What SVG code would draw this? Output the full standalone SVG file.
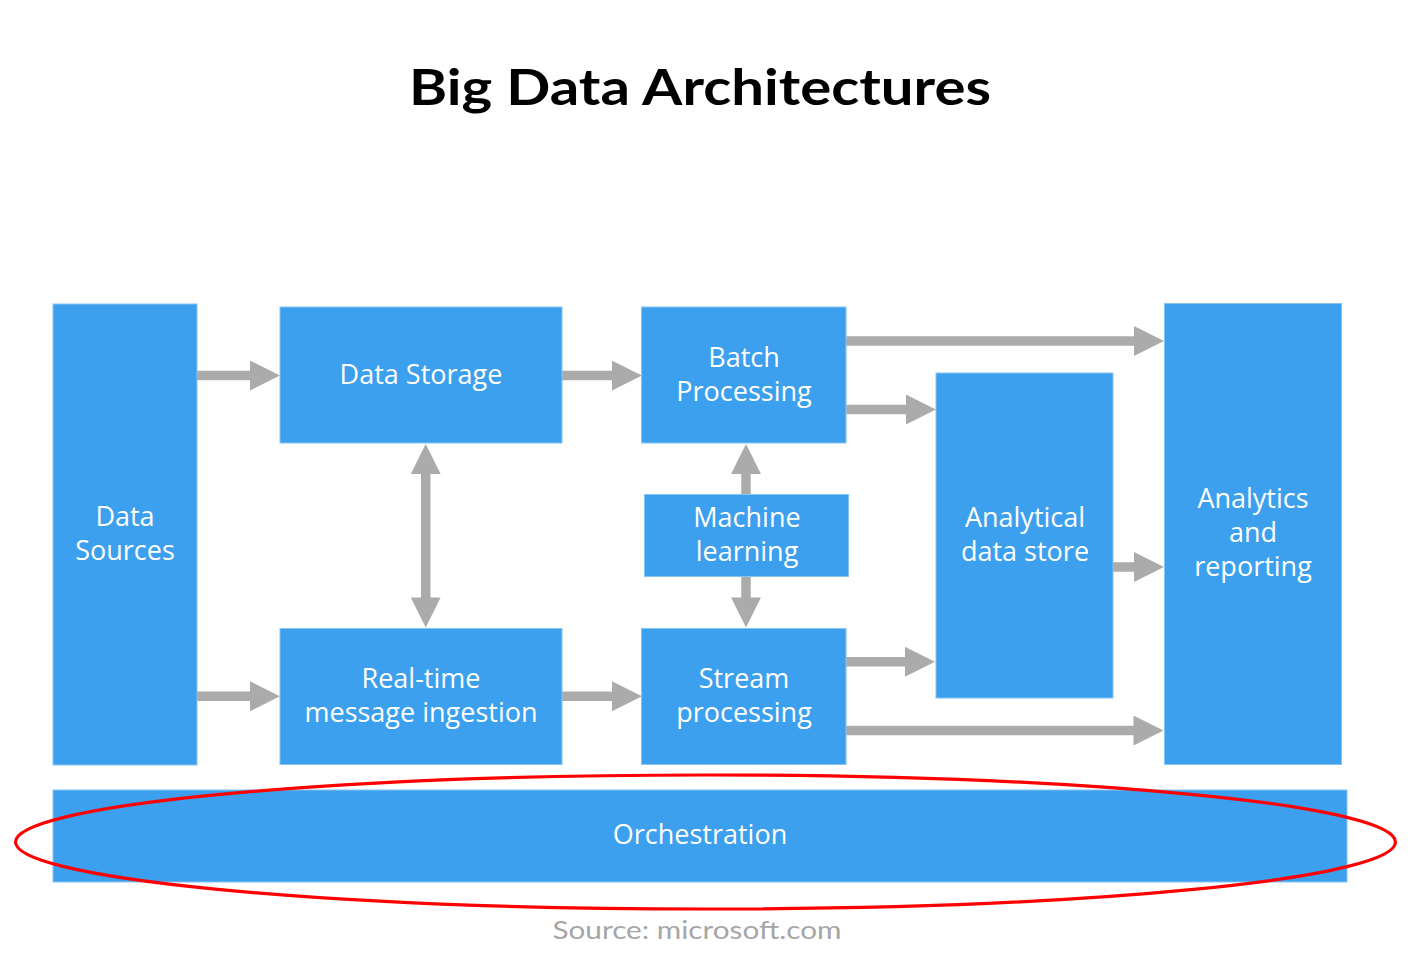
<svg xmlns="http://www.w3.org/2000/svg" width="1414" height="976" viewBox="0 0 1414 976">
<style>
.box{fill:#3ca0ee;stroke:#86c4f3;stroke-width:1}
.lbl{font-family:"Open Sans","Noto Sans","DejaVu Sans",sans-serif;font-size:27px;fill:#ffffff;text-anchor:middle}
.arr{stroke:#ababab;stroke-width:9.5;fill:none;stroke-linecap:butt}
</style>
<defs>
<marker id="ah" markerUnits="userSpaceOnUse" markerWidth="30" markerHeight="30" viewBox="0 0 29.5 29.4" refX="0.5" refY="14.7" orient="auto-start-reverse">
<path d="M0,0 L29.5,14.7 L0,29.4 z" fill="#ababab"/>
</marker>
</defs>
<rect width="1414" height="976" fill="#ffffff"/>
<text x="700" y="105" font-family="Lato,'Open Sans',sans-serif" font-weight="bold" font-size="49" fill="#000000" text-anchor="middle" textLength="582" lengthAdjust="spacingAndGlyphs">Big Data Architectures</text>

<g id="connectors">
<line class="arr" x1="197" y1="375.5" x2="250.5" y2="375.5" marker-end="url(#ah)"/>
<line class="arr" x1="562" y1="375.5" x2="612.5" y2="375.5" marker-end="url(#ah)"/>
<line class="arr" x1="846" y1="341" x2="1134.5" y2="341" marker-end="url(#ah)"/>
<line class="arr" x1="846" y1="409.5" x2="906.5" y2="409.5" marker-end="url(#ah)"/>
<line class="arr" x1="746" y1="495" x2="746" y2="473.5" marker-end="url(#ah)"/>
<line class="arr" x1="746" y1="577" x2="746" y2="598" marker-end="url(#ah)"/>
<line class="arr" x1="425.7" y1="473.5" x2="425.7" y2="598" marker-start="url(#ah)" marker-end="url(#ah)"/>
<line class="arr" x1="197" y1="696.3" x2="250.5" y2="696.3" marker-end="url(#ah)"/>
<line class="arr" x1="562" y1="696.3" x2="612.5" y2="696.3" marker-end="url(#ah)"/>
<line class="arr" x1="846" y1="661.8" x2="905.5" y2="661.8" marker-end="url(#ah)"/>
<line class="arr" x1="1113" y1="567" x2="1134.5" y2="567" marker-end="url(#ah)"/>
<line class="arr" x1="846" y1="730.5" x2="1134" y2="730.5" marker-end="url(#ah)"/>
</g>

<g id="data-sources">
<rect class="box" x="53" y="304" width="144" height="461"/>
<text class="lbl" x="125" y="526">Data</text>
<text class="lbl" x="125" y="560">Sources</text>
</g>
<g id="data-storage">
<rect class="box" x="280" y="307" width="282" height="136"/>
<text class="lbl" x="421" y="383.5">Data Storage</text>
</g>
<g id="batch-processing">
<rect class="box" x="641.5" y="307" width="204.5" height="136"/>
<text class="lbl" x="744" y="366.5">Batch</text>
<text class="lbl" x="744" y="400.5">Processing</text>
</g>
<g id="machine-learning">
<rect class="box" x="644.5" y="494.5" width="204" height="82"/>
<text class="lbl" x="747" y="527.3">Machine</text>
<text class="lbl" x="747" y="561.3">learning</text>
</g>
<g id="realtime-ingestion">
<rect class="box" x="280" y="628.5" width="282" height="136"/>
<text class="lbl" x="421" y="687.5">Real-time</text>
<text class="lbl" x="421" y="721.5">message ingestion</text>
</g>
<g id="stream-processing">
<rect class="box" x="641.5" y="628.5" width="204.5" height="136"/>
<text class="lbl" x="744" y="687.5">Stream</text>
<text class="lbl" x="744" y="721.5">processing</text>
</g>
<g id="analytical-data-store">
<rect class="box" x="936" y="373" width="177" height="325"/>
<text class="lbl" x="1025" y="527">Analytical</text>
<text class="lbl" x="1025" y="561">data store</text>
</g>
<g id="analytics-reporting">
<rect class="box" x="1164.5" y="303.5" width="177" height="461"/>
<text class="lbl" x="1253" y="507.5">Analytics</text>
<text class="lbl" x="1253" y="541.5">and</text>
<text class="lbl" x="1253" y="575.5">reporting</text>
</g>
<g id="orchestration">
<rect class="box" x="53" y="790" width="1294" height="92"/>
<text class="lbl" x="700" y="843.5">Orchestration</text>
</g>

<ellipse id="highlight" cx="705.5" cy="842" rx="690" ry="67" fill="none" stroke="#ff0000" stroke-width="3.2"/>

<text x="697" y="938.5" font-family="Lato,'Open Sans',sans-serif" font-size="25" fill="#a6a6a6" text-anchor="middle" textLength="289" lengthAdjust="spacingAndGlyphs">Source: microsoft.com</text>
</svg>
